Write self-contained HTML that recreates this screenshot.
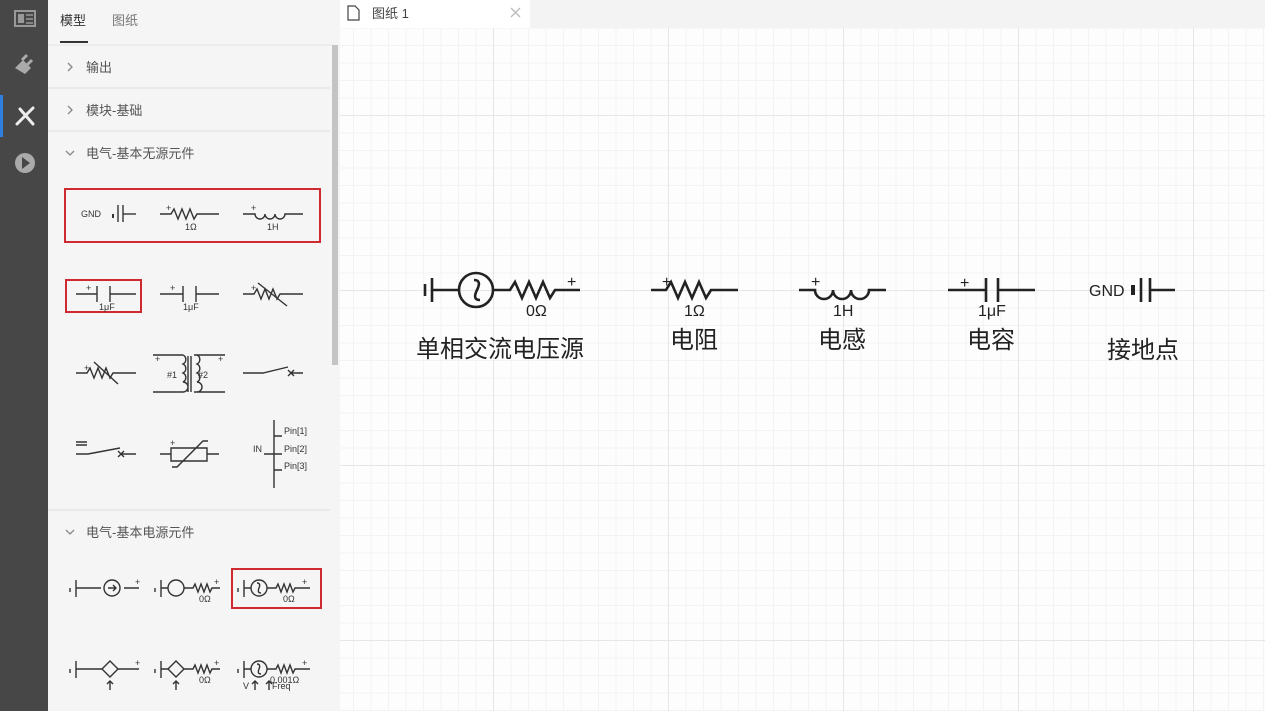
<!DOCTYPE html>
<html><head><meta charset="utf-8"><style>
html,body{margin:0;padding:0;width:1265px;height:711px;overflow:hidden;background:#fff;font-family:"Liberation Sans","Noto Sans CJK SC",sans-serif}
#rail{position:absolute;left:0;top:0;width:48px;height:711px;background:#474747}
#panel{position:absolute;left:48px;top:0;width:292px;height:711px;background:#f5f5f5}
#tabbar{position:absolute;left:340px;top:0;width:925px;height:28px;background:#f3f3f3}
#canvas{position:absolute;left:340px;top:28px;width:925px;height:683px;background-color:#fdfdfd;
background-image:linear-gradient(to right,#e6e6e6 1px,transparent 1px),linear-gradient(to bottom,#e6e6e6 1px,transparent 1px),linear-gradient(to right,#f3f3f3 1px,transparent 1px),linear-gradient(to bottom,#f3f3f3 1px,transparent 1px);
background-size:175px 175px,175px 175px,17.5px 17.5px,17.5px 17.5px;
background-position:153px 87px,153px 87px,153px 87px,153px 87px}
svg{position:absolute;left:0;top:0}
</style></head><body>
<div id="rail"></div>
<div id="panel"></div>
<div id="tabbar"></div>
<div id="canvas"></div>
<svg width="1265" height="711" viewBox="0 0 1265 711">
<rect x="0" y="95" width="3" height="42" fill="#2d7fe0"/>
<rect x="15" y="11" width="20" height="15" fill="none" stroke="#999" stroke-width="2"/>
<rect x="18" y="14" width="6" height="9" fill="#999"/><line x1="26" y1="15" x2="33" y2="15" stroke="#999" stroke-width="1.5"/><line x1="26" y1="19" x2="33" y2="19" stroke="#999" stroke-width="1.5"/><line x1="26" y1="23" x2="33" y2="23" stroke="#999" stroke-width="1.5"/>
<g fill="#aaa"><path d="M15 68 L23 60 L31 68 L25 74 Z"/><line x1="22" y1="60" x2="27" y2="55" stroke="#aaa" stroke-width="3"/><line x1="27" y1="65" x2="32" y2="60" stroke="#aaa" stroke-width="3"/></g>
<g stroke="#eee" stroke-width="3" stroke-linecap="round"><line x1="17" y1="124" x2="33" y2="108"/><line x1="20" y1="109" x2="33" y2="124"/></g>
<circle cx="25" cy="163" r="10" fill="#aaa"/><path d="M22 157 L30 163 L22 169 Z" fill="#474747"/>
<g font-size="13" fill="#555">
<text x="60" y="25" fill="#333">模型</text><text x="112" y="25" fill="#777">图纸</text>
<rect x="60" y="41" width="28" height="2" fill="#333"/>
<line x1="48" y1="45" x2="332" y2="45" stroke="#e4e4e4"/>
<text x="86" y="72">输出</text><text x="86" y="115">模块-基础</text><text x="86" y="158">电气-基本无源元件</text><text x="86" y="537">电气-基本电源元件</text>
</g>
<g stroke="#888" stroke-width="1.3" fill="none"><path d="M68 63 L72 67 L68 71"/><path d="M68 106 L72 110 L68 114"/><path d="M66 151 L70 155 L74 151"/><path d="M66 530 L70 534 L74 530"/></g>
<g stroke="#e0e0e0"><line x1="48" y1="88" x2="330" y2="88"/><line x1="48" y1="131" x2="330" y2="131"/><line x1="48" y1="510" x2="330" y2="510"/></g>
<rect x="332" y="45" width="6" height="320" fill="#c4c4c4"/>
<g fill="none" stroke="#cf2a2f" stroke-width="2"><rect x="65" y="189" width="255" height="53"/><rect x="66" y="280" width="75" height="32"/><rect x="232" y="569" width="89" height="39"/></g>
<g stroke="#333" stroke-width="1.4" fill="none">
<line x1="113" y1="214" x2="113" y2="218" stroke-width="2"/><line x1="118" y1="205" x2="118" y2="222"/><line x1="123" y1="205" x2="123" y2="222"/><line x1="123" y1="214" x2="136" y2="214"/>
<path d="M160 214 H171 l3 -5 l4 10 l4 -10 l4 10 l4 -10 l4 10 l3 -5 H219"/>
<path d="M243 214 H255 a5 5 0 0 0 10 0 a5 5 0 0 0 10 0 a5 5 0 0 0 10 0 H303"/>
<path d="M76 294 H97 M97 286 V302 M110 286 V302 M110 294 H136"/>
<path d="M160 294 H183 M183 286 V302 M196 286 V302 M196 294 H219"/>
<path d="M243 294 H254 l3 -5 l4 10 l4 -10 l4 10 l4 -10 l4 10 l3 -5 H303 M258 283 L287 306"/>
<path d="M76 373 H87 l3 -5 l4 10 l4 -10 l4 10 l4 -10 l4 10 l3 -5 H136 M94 362 L118 384"/>
<path d="M153 355 H183 M153 392 H183 a5 5 0 0 0 0 -10 a5 5 0 0 0 0 -9 a5 5 0 0 0 0 -9 a5 5 0 0 0 0 -9 M188 356 V392 M191 356 V392 M194 355 H225 M194 392 H225 M197 355 a5 5 0 0 1 0 9 a5 5 0 0 1 0 9 a5 5 0 0 1 0 9 a5 5 0 0 1 0 10"/>
<path d="M243 373 H263 L288 367 M288 370 l6 6 M294 370 l-6 6 M292 373 H303"/>
<path d="M76 454 H88 L120 448 M118 451 l6 6 M124 451 l-6 6 M122 454 H136 M76 442 H87 M76 445 H87"/>
<path d="M160 454 H171 M171 448 H207 V461 H171 Z M207 454 H219 M172 467 H177 L203 441 H208"/>
<path d="M264 454 H274 M274 420 V488 M274 436 H282 M274 454 H282 M274 470 H282" />
<path d="M70 588 V592 M76 580 V597 M76 588 H101 M124 588 H139"/><circle cx="112" cy="588" r="8"/><path d="M108 588 H116 M113 585 L116 588 L113 591"/>
<path d="M155 588 V592 M161 580 V597 M161 588 H168 M184 588 H193 l2 -4 l3 8 l3 -8 l3 8 l3 -8 l3 8 l2 -4 H220"/><circle cx="176" cy="588" r="8"/>
<path d="M238 588 V592 M244 580 V597 M244 588 H251 M267 588 H276 l2 -4 l3 8 l3 -8 l3 8 l3 -8 l3 8 l2 -4 H310"/><circle cx="259" cy="588" r="8"/><path d="M257 583 q4 0 2 5 q-2 5 2 5"/>
<path d="M70 669 V673 M76 661 V678 M76 669 H102 M118 669 H139 M110 690 V681 M107 684 L110 681 L113 684"/><path d="M102 669 L110 661 L118 669 L110 677 Z"/>
<path d="M155 669 V673 M161 661 V678 M161 669 H168 M184 669 H193 l2 -4 l3 8 l3 -8 l3 8 l3 -8 l3 8 l2 -4 H220 M176 690 V681 M173 684 L176 681 L179 684"/><path d="M168 669 L176 661 L184 669 L176 677 Z"/>
<path d="M238 669 V673 M244 661 V678 M244 669 H251 M267 669 H276 l2 -4 l3 8 l3 -8 l3 8 l3 -8 l3 8 l2 -4 H310 M255 690 V681 M252 684 L255 681 L258 684 M269 690 V681 M266 684 L269 681 L272 684"/><circle cx="259" cy="669" r="8"/><path d="M257 664 q4 0 2 5 q-2 5 2 5"/>
</g>
<g font-size="9" fill="#333">
<text x="81" y="217">GND</text><text x="185" y="230">1Ω</text><text x="267" y="230">1H</text>
<text x="99" y="310">1μF</text><text x="183" y="310">1μF</text>
<text x="167" y="378">#1</text><text x="198" y="378">#2</text>
<text x="284" y="434">Pin[1]</text><text x="284" y="452">Pin[2]</text><text x="284" y="469">Pin[3]</text><text x="253" y="452">IN</text>
<text x="199" y="602">0Ω</text><text x="283" y="602">0Ω</text><text x="199" y="683">0Ω</text><text x="270" y="683">0.001Ω</text>
<text x="243" y="689">V</text><text x="272" y="689">Freq</text>
</g>
<g font-size="9" fill="#333"><text x="166" y="211">+</text><text x="251" y="211">+</text><text x="86" y="291">+</text><text x="170" y="291">+</text><text x="251" y="291">+</text><text x="84" y="371">+</text><text x="155" y="362">+</text><text x="218" y="362">+</text><text x="170" y="446">+</text><text x="135" y="585">+</text><text x="214" y="585">+</text><text x="302" y="585">+</text><text x="135" y="666">+</text><text x="214" y="666">+</text><text x="302" y="666">+</text></g>
<rect x="340" y="0" width="190" height="28" fill="#fff"/>
<path d="M348 6 H355 L359 10 V20 H348 Z" fill="none" stroke="#444" stroke-width="1.2"/>
<text x="372" y="18" font-size="13" fill="#444">图纸 1</text>
<path d="M511 8 L520 17 M520 8 L511 17" stroke="#bbb" stroke-width="1.4"/>
<g stroke="#222" stroke-width="2.6" fill="none">
<path d="M425 284 V296"/><path d="M432 278 V302 M432 290 H459"/>
<circle cx="476" cy="290" r="17"/><path d="M474 280 q8 0 3 10 q-5 10 3 10"/>
<path d="M493 290 H510 l5 -8 l7 16 l7 -16 l7 16 l7 -16 l7 16 l5 -8 H580"/>
<path d="M651 290 H666 l5 -8 l7 16 l7 -16 l7 16 l7 -16 l7 16 l5 -8 H738"/>
<path d="M799 290 H815 a9 9 0 0 0 18 0 a9 9 0 0 0 18 0 a9 9 0 0 0 18 0 H886"/>
<path d="M948 290 H986 M986 278 V302 M998 278 V302 M998 290 H1035"/>
<path d="M1133 285 V295" stroke-width="4"/><path d="M1141 278 V302 M1150 278 V302 M1150 290 H1175"/>
</g>
<g font-size="16" fill="#222">
<text x="567" y="287">+</text><text x="526" y="316">0Ω</text>
<text x="662" y="287">+</text><text x="684" y="316">1Ω</text>
<text x="811" y="287">+</text><text x="833" y="316">1H</text>
<text x="960" y="288">+</text><text x="978" y="316">1μF</text>
<text x="1089" y="296">GND</text>
</g>
<g font-size="24" fill="#222">
<text x="416" y="357">单相交流电压源</text>
<text x="670" y="348">电阻</text><text x="818" y="348">电感</text><text x="967" y="348">电容</text><text x="1107" y="358">接地点</text>
</g>
</svg>
</body></html>
